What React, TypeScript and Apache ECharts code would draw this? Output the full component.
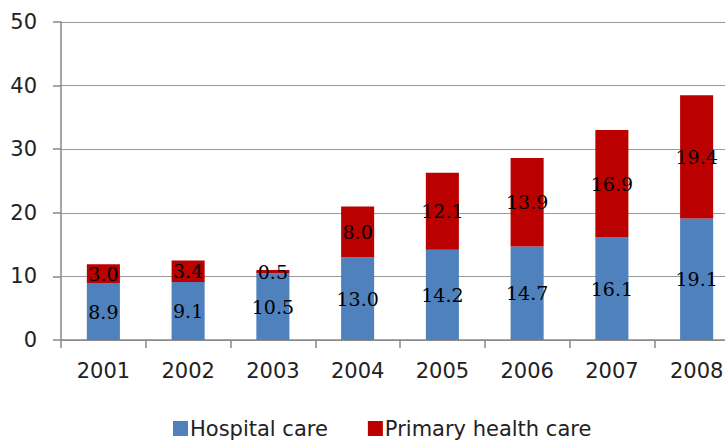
import React, { useEffect, useRef } from "react";
import * as echarts from "echarts";

const years = ["2001", "2002", "2003", "2004", "2005", "2006", "2007", "2008"];
const hospitalCare = [8.9, 9.1, 10.5, 13.0, 14.2, 14.7, 16.1, 19.1];
const primaryCare = [3.0, 3.4, 0.5, 8.0, 12.1, 13.9, 16.9, 19.4];
const yTicks = { min: 0, max: 50, interval: 10 };

export default function App() {
  const ref = useRef<HTMLDivElement>(null);
  useEffect(() => {
    if (!ref.current) return;
    const chart = echarts.init(ref.current, null, { renderer: "svg" });
    const labelStyle = {
      show: true,
      position: "inside" as const,
      color: "#000",
      fontFamily: "DejaVu Serif",
      fontSize: 19,
      formatter: (p: any) => Number(p.value).toFixed(1),
    };
    chart.setOption({
      animation: false,
      backgroundColor: "#fff",
      grid: { left: 61, top: 22, height: 318, width: 678, containLabel: false },
      legend: {
        top: 413,
        left: 168,
        itemWidth: 15,
        itemHeight: 15,
        itemGap: 40,
        icon: "rect",
        textStyle: { fontSize: 21, color: "#222", fontFamily: "DejaVu Sans", padding: [0, 0, 0, -3] },
        data: ["Hospital care", "Primary health care"],
      },
      xAxis: {
        type: "category",
        data: years,
        axisLine: { lineStyle: { color: "#888", width: 1.5 } },
        axisTick: { show: true, length: 8, lineStyle: { color: "#888", width: 1.5 } },
        axisLabel: { fontSize: 21, color: "#222", fontFamily: "DejaVu Sans", margin: 20 },
      },
      yAxis: {
        type: "value",
        min: yTicks.min,
        max: yTicks.max,
        interval: yTicks.interval,
        axisLine: { show: true, lineStyle: { color: "#888", width: 1.5 } },
        axisTick: { show: true, length: 8, lineStyle: { color: "#888", width: 1.5 } },
        splitLine: { lineStyle: { color: "#999", width: 1.2 } },
        axisLabel: { fontSize: 21, color: "#222", fontFamily: "DejaVu Sans", margin: 24 },
      },
      series: [
        {
          name: "Hospital care",
          type: "bar",
          stack: "total",
          barWidth: "39%",
          data: hospitalCare,
          itemStyle: { color: "#4F81BD" },
          label: labelStyle,
        },
        {
          name: "Primary health care",
          type: "bar",
          stack: "total",
          barWidth: "39%",
          data: primaryCare,
          itemStyle: { color: "#BB0000" },
          label: labelStyle,
        },
      ],
    });
    return () => chart.dispose();
  }, []);
  return (
    <div style={{ position: "fixed", left: 0, top: 0, width: 725, height: 441, overflow: "hidden" }}>
      <div ref={ref} style={{ width: 745, height: 441 }} />
    </div>
  );
}
